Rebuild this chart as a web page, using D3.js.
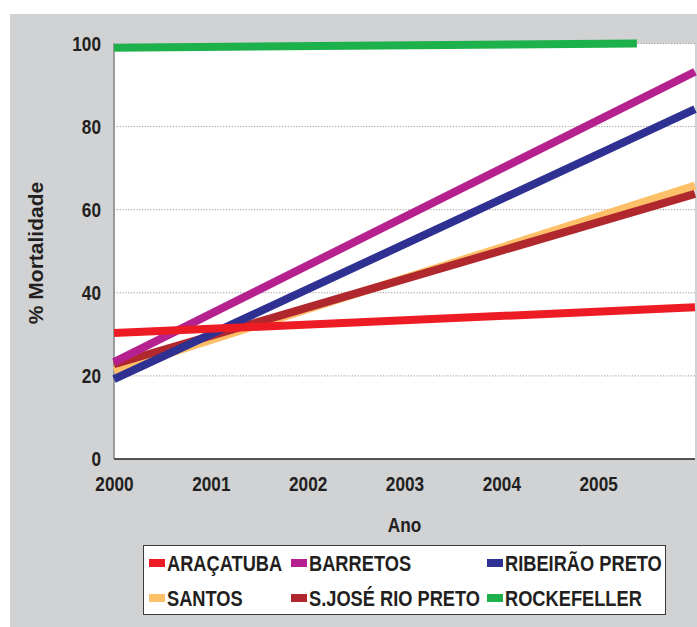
<!DOCTYPE html>
<html>
<head>
<meta charset="utf-8">
<script src="https://cdn.jsdelivr.net/npm/d3@7"></script>
<style>
  html, body { margin: 0; padding: 0; background: #ffffff; }
  svg { display: block; }
  text { font-family: "Liberation Sans", Arial, sans-serif; font-weight: bold; fill: #231f20; }
</style>
</head>
<body>
<script>
// Mortality (%) by region, trend from 2000 to 2006
const years = [2000, 2006];
const aracatuba = [30.3, 36.5];
const barretos = [23.3, 93.2];
const ribeiraoPreto = [19.2, 84.2];
const santos = [21.2, 65.8];
const saoJoseRioPreto = [22.8, 63.8];
const rockefellerYears = [2000, 2005.4];
const rockefeller = [99.0, 100.0];

const xTickLabels = ["2000", "2001", "2002", "2003", "2004", "2005"];
const yTickValues = [0, 20, 40, 60, 80, 100];

const legendNames = ["ARAÇATUBA", "BARRETOS", "RIBEIRÃO PRETO", "SANTOS", "S.JOSÉ RIO PRETO", "ROCKEFELLER"];
const legendColors = ["#ed1c24", "#b5218e", "#2e3192", "#fdc068", "#b0282e", "#1db14b"];

const W = 697, H = 627;
const plot = { left: 114, right: 695, top: 43.5, bottom: 459 };

// squeeze a text element horizontally around its own anchor point
function narrow(sel, k = 0.82) {
  sel.each(function () {
    const t = d3.select(this);
    const tx = +t.attr("x") || 0, ty = +t.attr("y") || 0;
    t.attr("x", 0).attr("y", 0).attr("transform", `translate(${tx},${ty}) scale(${k},1)`);
  });
}

const svg = d3.select("body").append("svg").attr("width", W).attr("height", H);

// gray panel
svg.append("rect").attr("x", 10).attr("y", 14).attr("width", W - 10).attr("height", H - 14).attr("fill", "#d1d2d4");
// plot area
svg.append("rect").attr("x", plot.left).attr("y", plot.top).attr("width", plot.right - plot.left).attr("height", plot.bottom - plot.top).attr("fill", "#ffffff");

const x = d3.scaleLinear().domain([2000, 2006]).range([plot.left, plot.right]);
const y = d3.scaleLinear().domain([0, 100]).range([plot.bottom, plot.top]);

// dotted grid
svg.append("g").selectAll("line").data(yTickValues.filter(v => v > 0)).join("line")
  .attr("x1", plot.left).attr("x2", plot.right)
  .attr("y1", d => y(d)).attr("y2", d => y(d))
  .attr("stroke", "#9a9a9a").attr("stroke-width", 1).attr("stroke-dasharray", "1.2,1.6");

// axes lines
svg.append("line").attr("x1", plot.left).attr("x2", plot.left).attr("y1", plot.top).attr("y2", plot.bottom)
  .attr("stroke", "#808285").attr("stroke-width", 1.5);
svg.append("line").attr("x1", plot.left).attr("x2", plot.right).attr("y1", plot.bottom).attr("y2", plot.bottom)
  .attr("stroke", "#231f20").attr("stroke-width", 1.5);

// y tick labels
const yAxis = d3.axisLeft(y).tickValues(yTickValues).tickSize(0).tickPadding(13).tickFormat(d3.format("d"));
const gy = svg.append("g").attr("transform", `translate(${plot.left},0)`).call(yAxis);
gy.select(".domain").remove();
gy.selectAll("text").attr("font-size", 21).attr("fill", "#231f20").attr("font-family", null).call(narrow);

// x tick labels
const xAxis = d3.axisBottom(x).tickValues(xTickLabels.map(Number)).tickSize(0).tickPadding(17).tickFormat((d, i) => xTickLabels[i]);
const gx = svg.append("g").attr("transform", `translate(0,${plot.bottom})`).call(xAxis);
gx.select(".domain").remove();
gx.selectAll("text").attr("font-size", 21).attr("fill", "#231f20").attr("font-family", null).call(narrow);

// axis titles
svg.append("text").attr("x", (plot.left + plot.right) / 2).attr("y", 532)
  .attr("text-anchor", "middle").attr("font-size", 21).text("Ano").call(narrow);
svg.append("text").attr("transform", "translate(43,253) rotate(-90)")
  .attr("text-anchor", "middle").attr("font-size", 21).text("% Mortalidade");

// trend lines
const line = d3.line().x(d => x(d[0])).y(d => y(d[1]));
const series = [
  { xs: years, ys: santos, color: legendColors[3] },
  { xs: years, ys: saoJoseRioPreto, color: legendColors[4] },
  { xs: years, ys: ribeiraoPreto, color: legendColors[2] },
  { xs: years, ys: barretos, color: legendColors[1] },
  { xs: years, ys: aracatuba, color: legendColors[0] },
  { xs: rockefellerYears, ys: rockefeller, color: legendColors[5] }
];
svg.append("g").selectAll("path").data(series).join("path")
  .attr("d", s => line(s.xs.map((v, i) => [v, s.ys[i]])))
  .attr("fill", "none").attr("stroke", s => s.color).attr("stroke-width", 8);

// legend
const lg = svg.append("g");
lg.append("rect").attr("x", 143.5).attr("y", 545.5).attr("width", 522).attr("height", 69)
  .attr("fill", "#ffffff").attr("stroke", "#3a3a3a").attr("stroke-width", 1);
const colX = [149, 291, 487];
const rowY = [563, 598];
legendNames.forEach((name, i) => {
  const cx = colX[i % 3], cy = rowY[Math.floor(i / 3)];
  lg.append("rect").attr("x", cx).attr("y", cy - 4).attr("width", 16).attr("height", 8).attr("fill", legendColors[i]);
  lg.append("text").attr("x", cx + 18).attr("y", cy + 8).attr("font-size", 22).text(name).call(narrow, 0.83);
});
</script>
</body>
</html>
